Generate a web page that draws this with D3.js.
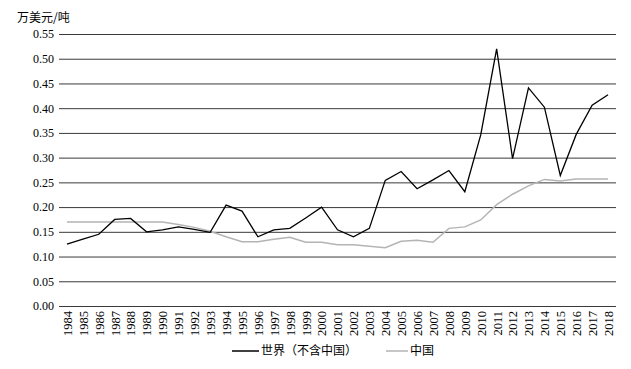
<!DOCTYPE html>
<html>
<head>
<meta charset="utf-8">
<script src="https://cdn.jsdelivr.net/npm/d3@7"></script>
<style>
  body { margin: 0; background: #fff; }
  .tick text { font-family: "Liberation Serif", "Times New Roman", serif; font-size: 12px; fill: #000; }
  .cjk { font-family: "Noto Sans CJK SC", sans-serif; font-size: 12px; fill: #000; }
</style>
</head>
<body>
<div id="chart"></div>
<script>
var years = d3.range(1984, 2019).map(String);

var world = [0.125, 0.135, 0.145, 0.175, 0.177, 0.150, 0.154, 0.160, 0.155, 0.149,
             0.204, 0.192, 0.140, 0.154, 0.157, 0.178, 0.200, 0.154, 0.140, 0.157,
             0.254, 0.272, 0.237, 0.255, 0.274, 0.231, 0.346, 0.520, 0.298, 0.441,
             0.402, 0.264, 0.347, 0.406, 0.427];

var china = [0.170, 0.170, 0.170, 0.170, 0.170, 0.170, 0.170, 0.165, 0.159, 0.151,
             0.140, 0.130, 0.130, 0.135, 0.139, 0.129, 0.129, 0.124, 0.124, 0.121,
             0.118, 0.131, 0.133, 0.129, 0.157, 0.160, 0.174, 0.205, 0.226, 0.243,
             0.256, 0.253, 0.257, 0.257, 0.257];

var yTicks = d3.range(0, 0.551, 0.05);

var width = 631, height = 369;
var plot = {x0: 59, x1: 616, y0: 34, y1: 306};

var svg = d3.select("#chart").append("svg")
    .attr("width", width)
    .attr("height", height);

var x = d3.scalePoint().domain(years).range([plot.x0, plot.x1]).padding(0.5);
var y = d3.scaleLinear().domain([0, 0.55]).range([plot.y1, plot.y0]);

// gridlines + y labels
var yAxis = d3.axisLeft(y)
    .tickValues(yTicks)
    .tickFormat(d3.format(".2f"))
    .tickSize(-(plot.x1 - plot.x0))
    .tickPadding(5);

var gy = svg.append("g")
    .attr("transform", "translate(" + plot.x0 + ",0)")
    .call(yAxis);
gy.select(".domain").remove();
gy.selectAll(".tick line").attr("stroke", "#3a3a3a").attr("stroke-width", 1);
gy.selectAll(".tick text").attr("x", -5);

// x labels, rotated
var xAxis = d3.axisBottom(x).tickSize(0).tickPadding(0);
var gx = svg.append("g")
    .attr("transform", "translate(0," + plot.y1 + ")")
    .call(xAxis);
gx.select(".domain").remove();
gx.selectAll(".tick text")
    .attr("transform", "rotate(-90)")
    .attr("x", -5)
    .attr("y", 0)
    .attr("dy", "0.35em")
    .style("font-size", "12.5px")
    .style("text-anchor", "end");

svg.append("text")
    .attr("class", "cjk")
    .attr("x", 17)
    .attr("y", 22)
    .text("万美元/吨");

var line = d3.line()
    .x(function(d, i) { return x(years[i]); })
    .y(function(d) { return y(d); });

svg.append("path")
    .datum(china)
    .attr("fill", "none")
    .attr("stroke", "#b4b4b4")
    .attr("stroke-width", 1.5)
    .attr("d", line);

svg.append("path")
    .datum(world)
    .attr("fill", "none")
    .attr("stroke", "#000")
    .attr("stroke-width", 1.3)
    .attr("d", line);

// legend
var legend = [
  {name: "世界（不含中国）", color: "#000", x: 232, len: 27},
  {name: "中国", color: "#b4b4b4", x: 386, len: 22}
];
var lg = svg.selectAll(".lg").data(legend).enter().append("g")
    .attr("transform", function(d) { return "translate(" + d.x + ",351)"; });
lg.append("line")
    .attr("x1", 0).attr("x2", function(d) { return d.len; })
    .attr("stroke", function(d) { return d.color; })
    .attr("stroke-width", 1.5);
lg.append("text")
    .attr("class", "cjk")
    .attr("x", function(d) { return d.len + 2; })
    .attr("dy", "0.35em")
    .text(function(d) { return d.name; });
</script>
</body>
</html>
